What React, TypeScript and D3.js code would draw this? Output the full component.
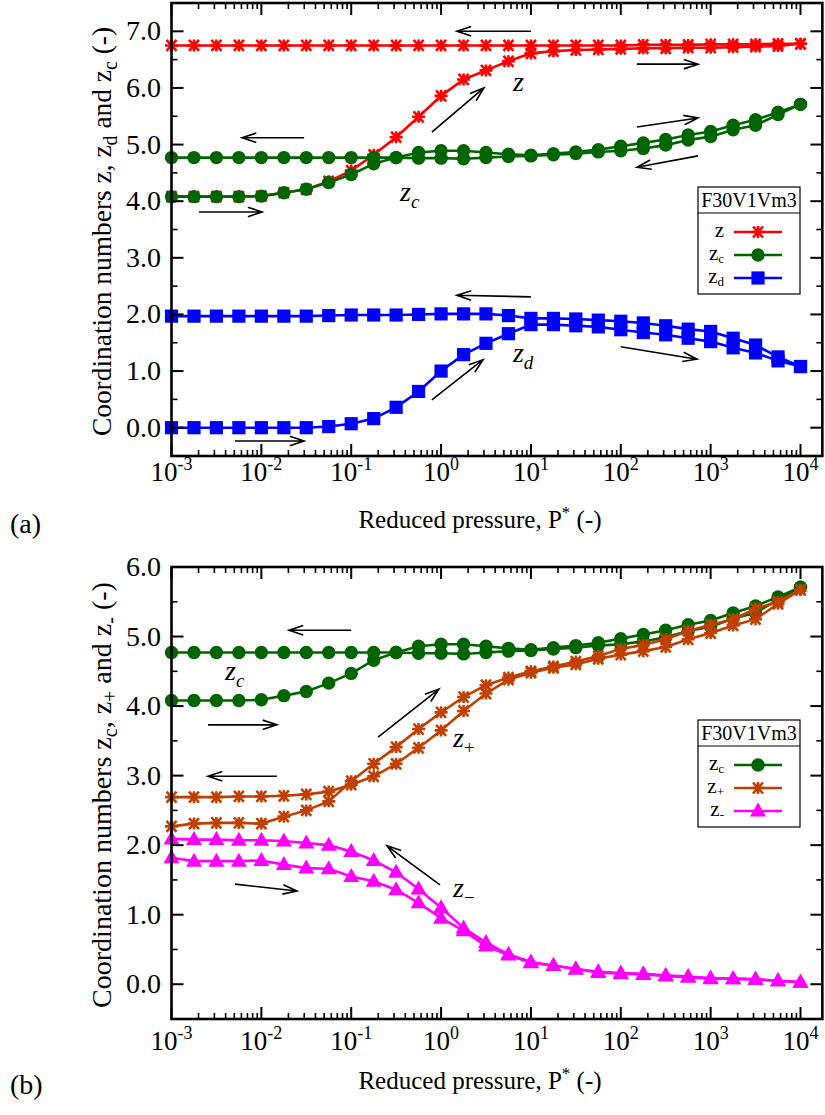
import React from 'react';
import * as d3 from 'd3';

// ---------- data ----------
const pressure = [0.001, 0.00178, 0.00316, 0.00562, 0.01, 0.0178, 0.0316, 0.0562, 0.1, 0.178, 0.316, 0.562, 1, 1.78, 3.16, 5.62, 10, 17.8, 31.6, 56.2, 100, 178, 316, 562, 1000, 1780, 3160, 5620, 10000];

// panel (a)
const zLoading = [4.08, 4.08, 4.08, 4.08, 4.09, 4.15, 4.21, 4.35, 4.54, 4.82, 5.13, 5.49, 5.86, 6.15, 6.31, 6.47, 6.61, 6.65, 6.67, 6.68, 6.69, 6.70, 6.70, 6.71, 6.71, 6.72, 6.73, 6.74, 6.78];
const zUnloading = [6.75, 6.75, 6.75, 6.75, 6.75, 6.75, 6.75, 6.75, 6.75, 6.75, 6.75, 6.75, 6.75, 6.75, 6.75, 6.75, 6.75, 6.75, 6.75, 6.75, 6.75, 6.76, 6.76, 6.76, 6.77, 6.77, 6.77, 6.78, 6.78];
const zcLoading = [4.08, 4.08, 4.08, 4.08, 4.09, 4.15, 4.21, 4.33, 4.47, 4.66, 4.77, 4.86, 4.89, 4.89, 4.86, 4.83, 4.81, 4.84, 4.87, 4.91, 4.97, 5.03, 5.09, 5.17, 5.23, 5.34, 5.44, 5.57, 5.71];
const zcUnloading = [4.77, 4.77, 4.77, 4.77, 4.77, 4.77, 4.77, 4.77, 4.77, 4.77, 4.77, 4.76, 4.76, 4.75, 4.77, 4.79, 4.80, 4.82, 4.84, 4.87, 4.89, 4.93, 4.99, 5.08, 5.14, 5.26, 5.34, 5.53, 5.71];
const zdLoading = [0, 0, 0, 0, 0, 0, 0, 0.02, 0.07, 0.16, 0.36, 0.64, 1.00, 1.29, 1.49, 1.66, 1.82, 1.82, 1.80, 1.78, 1.73, 1.68, 1.64, 1.58, 1.52, 1.41, 1.32, 1.18, 1.08];
const zdUnloading = [1.97, 1.97, 1.97, 1.97, 1.97, 1.97, 1.97, 1.98, 1.99, 1.99, 1.99, 2.00, 2.01, 2.01, 2.01, 1.98, 1.93, 1.93, 1.92, 1.90, 1.88, 1.85, 1.80, 1.74, 1.70, 1.58, 1.46, 1.25, 1.08];

// panel (b)
const zpLoading = [2.27, 2.31, 2.32, 2.32, 2.31, 2.41, 2.50, 2.63, 2.92, 3.17, 3.41, 3.67, 3.91, 4.13, 4.30, 4.41, 4.50, 4.57, 4.64, 4.72, 4.82, 4.88, 4.96, 5.08, 5.17, 5.25, 5.40, 5.50, 5.67];
const zpUnloading = [2.69, 2.69, 2.69, 2.70, 2.70, 2.71, 2.73, 2.77, 2.87, 2.99, 3.17, 3.40, 3.65, 3.93, 4.18, 4.38, 4.48, 4.55, 4.60, 4.68, 4.74, 4.79, 4.85, 4.96, 5.05, 5.16, 5.25, 5.47, 5.67];
const zmLoading = [1.82, 1.77, 1.77, 1.77, 1.78, 1.72, 1.67, 1.66, 1.55, 1.48, 1.36, 1.17, 0.95, 0.77, 0.55, 0.42, 0.31, 0.27, 0.22, 0.17, 0.15, 0.14, 0.12, 0.10, 0.08, 0.08, 0.07, 0.05, 0.03];
const zmUnloading = [2.09, 2.08, 2.08, 2.07, 2.07, 2.06, 2.03, 2.00, 1.91, 1.78, 1.61, 1.37, 1.10, 0.81, 0.60, 0.43, 0.32, 0.27, 0.22, 0.18, 0.16, 0.15, 0.13, 0.11, 0.09, 0.08, 0.07, 0.05, 0.03];

const xTickExponents = [-3, -2, -1, 0, 1, 2, 3, 4];
const yTicksA = [0, 1, 2, 3, 4, 5, 6, 7];
const yTicksB = [0, 1, 2, 3, 4, 5, 6];

// annotation arrows [fromP, fromV, toP, toV]
const arrowsA = [
  [10, 7.0, 1.5, 7.0],
  [151, 6.42, 724, 6.42],
  [0.79, 5.22, 3.0, 6.0],
  [0.0299, 5.12, 0.0061, 5.12],
  [0.00202, 3.81, 0.0102, 3.81],
  [151, 5.31, 724, 5.47],
  [724, 4.80, 151, 4.60],
  [10, 2.31, 1.5, 2.34],
  [0.79, 0.49, 2.93, 1.20],
  [100, 1.43, 705, 1.21],
  [0.00509, -0.235, 0.0299, -0.235],
];
const arrowsB = [
  [0.1, 5.09, 0.0203, 5.09],
  [0.00255, 3.73, 0.0149, 3.73],
  [0.0149, 2.99, 0.00255, 2.99],
  [0.199, 3.555, 0.948, 4.245],
  [0.00509, 1.44, 0.0249, 1.34],
  [0.973, 1.43, 0.25, 1.99],
];
// curve labels [P, V, base, sub]
const labelsA: [number, number, string, string][] = [
  [6.3, 5.95, 'z', ''],
  [0.349, 4.0, 'z', 'c'],
  [6.3, 1.16, 'z', 'd'],
];
const labelsB: [number, number, string, string][] = [
  [0.00394, 4.375, 'z', 'c'],
  [1.36, 3.41, 'z', '+'],
  [1.36, 1.254, 'z', '\u2212'],
];

const FONT = "'Liberation Serif', 'DejaVu Serif', serif";

type Shape = 'star' | 'circle' | 'square' | 'triangle';
type Series = { sub: string; color: string; shape: Shape; branches: number[][] };

const seriesA: Series[] = [
  { sub: '', color: '#ff0000', shape: 'star', branches: [zLoading, zUnloading] },
  { sub: 'c', color: '#006400', shape: 'circle', branches: [zcLoading, zcUnloading] },
  { sub: 'd', color: '#0000ff', shape: 'square', branches: [zdLoading, zdUnloading] },
];
const seriesB: Series[] = [
  { sub: 'c', color: '#006400', shape: 'circle', branches: [zcLoading, zcUnloading] },
  { sub: '+', color: '#c04000', shape: 'star', branches: [zpLoading, zpUnloading] },
  { sub: '-', color: '#ff00ff', shape: 'triangle', branches: [zmLoading, zmUnloading] },
];

function Marker({ shape, x, y, color }: { shape: Shape; x: number; y: number; color: string }) {
  switch (shape) {
    case 'circle':
      return <circle cx={x} cy={y} r={6.7} fill={color} />;
    case 'square':
      return <rect x={x - 6.6} y={y - 6.6} width={13.2} height={13.2} fill={color} />;
    case 'triangle':
      return <path d={`M${x},${y - 8.5}L${x + 8},${y + 5.5}L${x - 8},${y + 5.5}Z`} fill={color} />;
    default:
      return (
        <path
          d={`M${x - 6.5},${y}H${x + 6.5}M${x - 5},${y - 5.5}L${x + 5},${y + 5.5}M${x - 5},${y + 5.5}L${x + 5},${y - 5.5}M${x},${y - 6}V${y + 6}`}
          stroke={color}
          strokeWidth={2.6}
          fill="none"
        />
      );
  }
}

const x = d3.scaleLog().domain([1e-3, 1e4]).range([171.5, 800.5]);
const xRightP = 1.75e4;

function Arrow({ x1, y1, x2, y2 }: { x1: number; y1: number; x2: number; y2: number }) {
  const a = Math.atan2(y2 - y1, x2 - x1);
  const L = 15;
  const s = 0.32;
  const h1x = x2 - L * Math.cos(a - s), h1y = y2 - L * Math.sin(a - s);
  const h2x = x2 - L * Math.cos(a + s), h2y = y2 - L * Math.sin(a + s);
  return (
    <path d={`M${x1},${y1}L${x2},${y2}M${h1x},${h1y}L${x2},${y2}L${h2x},${h2y}`} stroke="#000" strokeWidth={1.6} fill="none" />
  );
}

function Panel({
  yDomain, yRange, yTicks, series, arrows, labels, legendTop, title, titleSize, panelLabel, tickDy, xTitleDy,
}: {
  yDomain: [number, number]; yRange: [number, number]; yTicks: number[]; series: Series[];
  arrows: number[][]; labels: [number, number, string, string][]; legendTop: number;
  title: React.ReactNode; titleSize: number; panelLabel: string; tickDy: number; xTitleDy: number;
}) {
  const y = d3.scaleLinear().domain(yDomain).range(yRange);
  const left = x(1e-3), right = x(xRightP), bottom = yRange[0], top = yRange[1];
  const line = d3.line<number>().x((_, i) => x(pressure[i])).y((v) => y(v));
  const minorX: number[] = [];
  for (let e = -3; e < 4; e++) for (let m = 2; m <= 9; m++) minorX.push(m * Math.pow(10, e));
  const minorY: number[] = [];
  for (let v = Math.ceil(yDomain[0]) + 0.5; v < yDomain[1]; v += 1) minorY.push(v);
  const major = 12, minor = 6;

  const legX1 = 734, legX2 = 782;
  return (
    <g>
      {/* series */}
      {series.map((s, si) => (
        <g key={si}>
          {s.branches.map((b, bi) => (
            <path key={bi} d={line(b) || ''} stroke={s.color} strokeWidth={2.6} fill="none" />
          ))}
          {s.branches.map((b, bi) =>
            b.map((v, i) => <Marker key={`${bi}-${i}`} shape={s.shape} x={x(pressure[i])} y={y(v)} color={s.color} />)
          )}
        </g>
      ))}
      {/* frame */}
      <rect x={left} y={top} width={right - left} height={bottom - top} fill="none" stroke="#000" strokeWidth={2.6} />
      {/* x ticks */}
      {xTickExponents.map((e) => {
        const px = x(Math.pow(10, e));
        return (
          <g key={e}>
            <line x1={px} x2={px} y1={bottom} y2={bottom - major} stroke="#000" strokeWidth={2} />
            <line x1={px} x2={px} y1={top} y2={top + major} stroke="#000" strokeWidth={2} />
            <text x={px} y={bottom + tickDy} textAnchor="middle" fontFamily={FONT} fontSize={27}>
              10<tspan dy={-11} fontSize={18}>{e < 0 ? '-' + Math.abs(e) : String(e)}</tspan>
            </text>
          </g>
        );
      })}
      {minorX.map((m, i) => {
        const px = x(m);
        return (
          <g key={'mx' + i}>
            <line x1={px} x2={px} y1={bottom} y2={bottom - minor} stroke="#000" strokeWidth={1.6} />
            <line x1={px} x2={px} y1={top} y2={top + minor} stroke="#000" strokeWidth={1.6} />
          </g>
        );
      })}
      {/* y ticks */}
      {yTicks.map((t) => {
        const py = y(t);
        return (
          <g key={t}>
            <line x1={left} x2={left + major} y1={py} y2={py} stroke="#000" strokeWidth={2} />
            <line x1={right} x2={right - major} y1={py} y2={py} stroke="#000" strokeWidth={2} />
            <text x={161} y={py + 9} textAnchor="end" fontFamily={FONT} fontSize={28}>
              {t.toFixed(1)}
            </text>
          </g>
        );
      })}
      {minorY.map((t) => {
        const py = y(t);
        return (
          <g key={'my' + t}>
            <line x1={left} x2={left + minor} y1={py} y2={py} stroke="#000" strokeWidth={1.6} />
            <line x1={right} x2={right - minor} y1={py} y2={py} stroke="#000" strokeWidth={1.6} />
          </g>
        );
      })}
      {/* arrows */}
      {arrows.map((a, i) => (
        <Arrow key={i} x1={x(a[0])} y1={y(a[1])} x2={x(a[2])} y2={y(a[3])} />
      ))}
      {/* curve labels */}
      {labels.map((l, i) => (
        <text key={i} x={x(l[0])} y={y(l[1])} fontFamily={FONT} fontStyle="italic" fontSize={28}>
          {l[2]}
          {l[3] && (
            <tspan dy={7} fontSize={19} fontStyle={l[3] === 'c' || l[3] === 'd' ? 'italic' : 'normal'}>
              {l[3]}
            </tspan>
          )}
        </text>
      ))}
      {/* legend */}
      <g>
        <rect x={698} y={legendTop} width={102} height={107} fill="#fff" stroke="#000" strokeWidth={1.2} />
        <line x1={698} x2={800} y1={legendTop + 26} y2={legendTop + 26} stroke="#000" strokeWidth={1.2} />
        <text x={749} y={legendTop + 20} textAnchor="middle" fontFamily={FONT} fontSize={20}>
          F30V1Vm3
        </text>
        {series.map((s, i) => {
          const ly = legendTop + 45 + i * 23;
          return (
            <g key={i}>
              <line x1={legX1} x2={legX2} y1={ly} y2={ly} stroke={s.color} strokeWidth={2.6} />
              <Marker shape={s.shape} x={(legX1 + legX2) / 2} y={ly} color={s.color} />
              <text x={724} y={ly + 5} textAnchor="end" fontFamily={FONT} fontSize={21}>
                z{s.sub && <tspan dy={3} fontSize={13}>{s.sub}</tspan>}
              </text>
            </g>
          );
        })}
      </g>
      {/* axis titles */}
      <text x={480} y={bottom + xTitleDy} textAnchor="middle" fontFamily={FONT} fontSize={25}>
        Reduced pressure, P<tspan dy={-10} fontSize={17}>*</tspan>
        <tspan dy={10}> (-)</tspan>
      </text>
      <text
        transform={`translate(111,${(top + bottom) / 2 + 2}) rotate(-90)`}
        textAnchor="middle"
        fontFamily={FONT}
        fontSize={titleSize}
      >
        {title}
      </text>
      <text x={10} y={bottom + xTitleDy + 5} fontFamily={FONT} fontSize={28}>
        {panelLabel}
      </text>
    </g>
  );
}

export default function App() {
  return (
    <svg width={825} height={1115} style={{ position: 'absolute', left: 0, top: 0, background: '#fff' }}>
      <rect width={825} height={1115} fill="#fff" />
      <Panel
        yDomain={[-0.5, 7.5]}
        yRange={[456, 3]}
        yTicks={yTicksA}
        series={seriesA}
        arrows={arrowsA}
        labels={labelsA}
        legendTop={187}
        panelLabel="(a)"
        tickDy={25}
        xTitleDy={72}
        titleSize={27.4}
        title={
          <>
            Coordination numbers z, z<tspan dy={6} fontSize={20}>d</tspan>
            <tspan dy={-6}> and z</tspan>
            <tspan dy={6} fontSize={20}>c</tspan>
            <tspan dy={-6}> (-)</tspan>
          </>
        }
      />
      <Panel
        yDomain={[-0.5, 6.0]}
        yRange={[1019, 567]}
        yTicks={yTicksB}
        series={seriesB}
        arrows={arrowsB}
        labels={labelsB}
        legendTop={720}
        panelLabel="(b)"
        tickDy={31}
        xTitleDy={70}
        titleSize={28}
        title={
          <>
            Coordination numbers z<tspan dy={6} fontSize={20}>c</tspan>
            <tspan dy={-6}>, z</tspan>
            <tspan dy={6} fontSize={20}>+</tspan>
            <tspan dy={-6}> and z</tspan>
            <tspan dy={6} fontSize={20}>-</tspan>
            <tspan dy={-6}> (-)</tspan>
          </>
        }
      />
    </svg>
  );
}
